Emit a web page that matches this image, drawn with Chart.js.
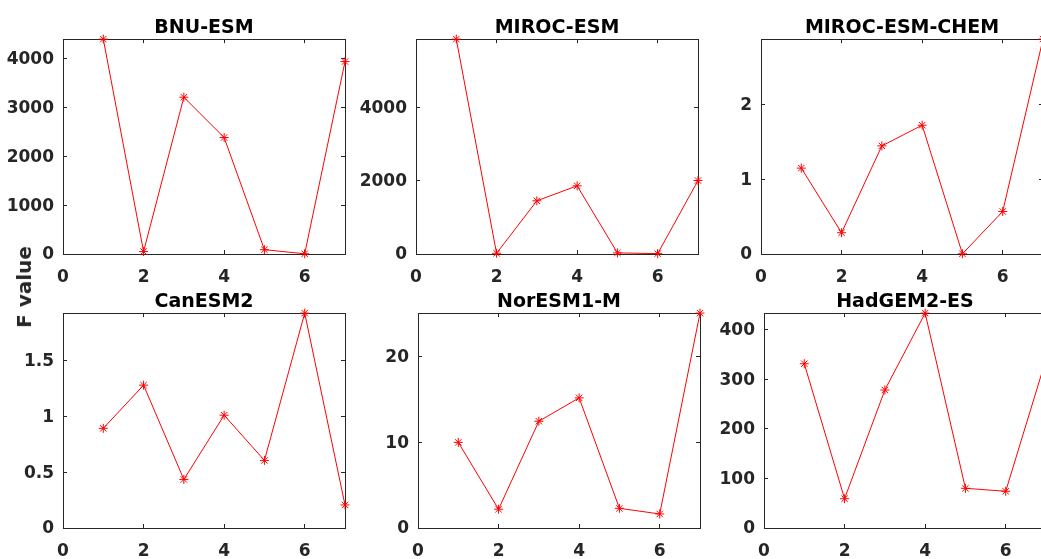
<!DOCTYPE html>
<html>
<head>
<meta charset="utf-8">
<script src="https://cdn.jsdelivr.net/npm/chart.js@4.4.1/dist/chart.umd.min.js"></script>
<style>
	body { margin: 0; width: 1041px; height: 559px; overflow: hidden; background: #fff; position: relative; }
	canvas { position: absolute; }
	.ylabel {
		position: absolute;
		left: 24px;
		top: 287px;
		transform: translate(-50%, -50%) rotate(-90deg);
		font: bold 20px "DejaVu Sans";
		color: #262626;
		white-space: nowrap;
	}
</style>
</head>
<body>
<canvas id="c0" width="354" height="284" style="left:-1px;top:0px"></canvas>
<canvas id="c1" width="354" height="284" style="left:352px;top:0px"></canvas>
<canvas id="c2" width="354" height="284" style="left:697px;top:0px"></canvas>
<canvas id="c3" width="354" height="284" style="left:-1px;top:274px"></canvas>
<canvas id="c4" width="354" height="284" style="left:354px;top:274px"></canvas>
<canvas id="c5" width="354" height="284" style="left:700px;top:274px"></canvas>
<div class="ylabel">F value</div>
<script>
"use strict"

// data
const xs = [1, 2, 3, 4, 5, 6, 7]
const xTicks = [0, 2, 4, 6]
const titles = ["BNU-ESM", "MIROC-ESM", "MIROC-ESM-CHEM", "CanESM2", "NorESM1-M", "HadGEM2-ES"]

const bnuEsm = [4400, 50, 3210, 2385, 88, 5, 3940]
const mirocEsm = [5880, 20, 1455, 1865, 30, 10, 2010]
const mirocEsmChem = [1.147, 0.284, 1.444, 1.72, 0.003, 0.568, 2.87]
const canEsm2 = [0.895, 1.283, 0.436, 1.013, 0.607, 1.93, 0.207]
const norEsm1M = [10.0, 2.19, 12.47, 15.2, 2.3, 1.64, 25.1]
const hadGem2Es = [331, 59, 278, 433, 80, 74, 340]

const yTicks = [
	[0, 1000, 2000, 3000, 4000],
	[0, 2000, 4000],
	[0, 1, 2],
	[0, 0.5, 1, 1.5],
	[0, 10, 20],
	[0, 100, 200, 300, 400],
]

const series = [bnuEsm, mirocEsm, mirocEsmChem, canEsm2, norEsm1M, hadGem2Es]

const ink = "#262626"
const tickFont = { family: "DejaVu Sans", size: 17, weight: "bold" }

function makeAxis(position, tickValues, min, max, showLabels) {
	const horizontal = position === "bottom" || position === "top"
	return {
		type: "linear",
		position: position,
		min: min,
		max: max,
		afterBuildTicks: function (axis) {
			axis.ticks = tickValues.map(v => ({ value: v }))
		},
		afterFit: function (axis) {
			if (horizontal) axis.height = showLabels ? 30 : 0
			else axis.width = showLabels ? 64 : 0
		},
		grid: {
			drawOnChartArea: false,
			drawTicks: true,
			tickLength: -4,
			color: ink,
			tickColor: ink,
		},
		border: { display: true, color: ink, width: 1 },
		ticks: {
			display: showLabels,
			color: ink,
			font: tickFont,
			padding: horizontal ? 17 : 13,
			labelOffset: horizontal ? 0 : 1,
			callback: v => String(v),
		},
	}
}

series.forEach(function (values, i) {
	const ymax = Math.max(...values)
	new Chart(document.getElementById("c" + i), {
		type: "line",
		data: {
			datasets: [
				{
					data: xs.map((x, k) => ({ x: x, y: values[k] })),
					borderColor: "#ff0000",
					backgroundColor: "#ff0000",
					borderWidth: 1,
					pointStyle: "star",
					pointRadius: 4.5,
					pointBorderWidth: 1,
					pointBorderColor: "#ff0000",
					tension: 0,
					clip: false,
				},
			],
		},
		options: {
			responsive: false,
			animation: false,
			events: [],
			layout: {
				padding: { left: 0, right: 8, top: 0, bottom: 0 },
			},
			plugins: {
				legend: { display: false },
				tooltip: { enabled: false },
				title: {
					display: true,
					fullSize: false,
					text: titles[i],
					color: "#000",
					font: { family: "DejaVu Sans", size: 19, weight: "bold" },
					padding: { top: 16.3, bottom: 0 },
				},
			},
			scales: {
				x: makeAxis("bottom", xTicks, 0, 7, true),
				x2: makeAxis("top", xTicks, 0, 7, false),
				y: makeAxis("left", yTicks[i], 0, ymax, true),
				y2: makeAxis("right", yTicks[i], 0, ymax, false),
			},
		},
	})
})
</script>
</body>
</html>
